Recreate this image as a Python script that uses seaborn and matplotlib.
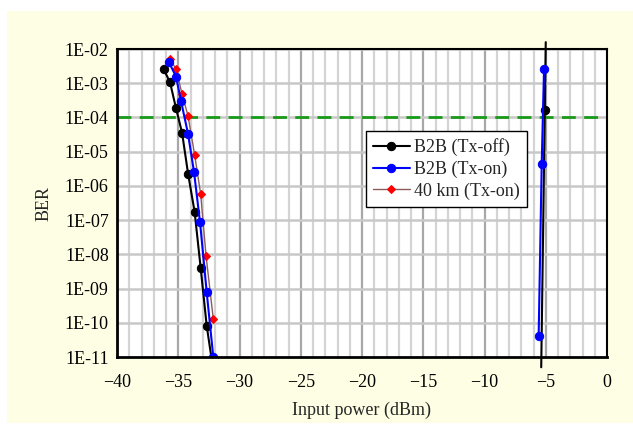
import numpy as np
import pandas as pd
import matplotlib
matplotlib.use("Agg")
import matplotlib.pyplot as plt
import seaborn as sns
from matplotlib.ticker import MultipleLocator, FuncFormatter, LogLocator, NullFormatter
from matplotlib.patches import Rectangle

# ---- data ----
tx_off_power = [-36.2, -35.67, -35.18, -34.69, -34.2, -33.66, -33.17, -32.68]
tx_off_ber = [2.6e-3, 1.06e-3, 1.84e-4, 3.6e-5, 2.3e-6, 1.7e-7, 4.0e-9, 8.3e-11]
tx_off_tail_power = [-32.68, -32.3]
tx_off_tail_ber = [8.3e-11, 1.0e-11]
tx_off_right_power = [-5.06]
tx_off_right_ber = [1.6e-4]
tx_off_right_line_power = [-5.0, -5.37]
tx_off_right_line_ber = [10 ** -1.8, 10 ** -11.3]

tx_on_power = [-35.76, -35.18, -34.78, -34.2, -33.71, -33.22, -32.68, -32.14]
tx_on_ber = [4.1e-3, 1.55e-3, 3.1e-4, 3.3e-5, 2.5e-6, 8.6e-8, 8.0e-10, 1.0e-11]
tx_on_right_power = [-5.14, -5.33, -5.58]
tx_on_right_ber = [2.6e-3, 4.4e-6, 4.0e-11]

km40_power = [-35.67, -35.18, -34.69, -34.2, -33.66, -33.17, -32.73, -32.14]
km40_ber = [5.0e-3, 2.6e-3, 4.8e-4, 1.1e-4, 8.0e-6, 5.8e-7, 9.0e-9, 1.3e-10]

fec_limit = 1e-4
labels = ["B2B (Tx-off)", "B2B (Tx-on)", "40 km (Tx-on)"]

# ---- style ----
sns.set_style("white")
plt.rcParams["font.family"] = ["Liberation Serif", "DejaVu Serif"]
plt.rcParams["axes.unicode_minus"] = True
FS = 13
plt.rcParams["font.size"] = FS

fig = plt.figure(figsize=(6.33, 4.24), dpi=100)
fig.patch.set_facecolor("white")
bg = Rectangle((7 / 633, 1 / 424), 1 - 7 / 633, 412 / 424,
               transform=fig.transFigure, facecolor="#FEFEE4",
               edgecolor="none", zorder=-10)
fig.add_artist(bg)
ax = fig.add_axes([117 / 633, (424 - 357) / 424, 490 / 633, 308 / 424])
ax.set_zorder(2)
ax.set_facecolor("white")

black = "#000000"
blue = "#0000FF"
brown = "#8A5C5C"
red = "#FF0000"

# grid
ax.set_xlim(-40, 0)
ax.set_yscale("log")
ax.set_ylim(1e-11, 1e-2)
for xv in range(-39, 0):
    ax.axvline(xv, color="#A8A8A8" if xv % 5 == 0 else "#D4D4D4", lw=1.6, zorder=0.5)
for e in range(-10, -1):
    ax.axhline(10.0 ** e, color="#C8C8C8", lw=1.8, zorder=0.5)

ax.axhline(fec_limit, color="#1A9A1A", lw=2, dashes=(5, 3), zorder=1)

# series
sns.lineplot(x=tx_off_power, y=tx_off_ber, ax=ax, color=black, lw=1.5, marker="o",
             markersize=6, markeredgecolor=black, markerfacecolor=black,
             sort=False, label=labels[0], zorder=3)
sns.lineplot(x=tx_off_tail_power, y=tx_off_tail_ber, ax=ax, color=black, lw=1.5,
             sort=False, zorder=3)
ax.plot(tx_off_right_line_power, tx_off_right_line_ber, color=black, lw=1.5,
        clip_on=False, zorder=3)
sns.lineplot(x=tx_off_right_power, y=tx_off_right_ber, ax=ax, color=black, lw=0,
             marker="o", markersize=6, markeredgecolor=black, sort=False, zorder=3.5)

sns.lineplot(x=tx_on_power, y=tx_on_ber, ax=ax, color=blue, lw=1.5, marker="o",
             markersize=6, markeredgecolor=blue, markerfacecolor=blue,
             sort=False, label=labels[1], zorder=4)
sns.lineplot(x=tx_on_right_power, y=tx_on_right_ber, ax=ax, color=blue, lw=1.5,
             marker="o", markersize=6, markeredgecolor=blue, markerfacecolor=blue,
             sort=False, zorder=4)

sns.lineplot(x=km40_power, y=km40_ber, ax=ax, color=brown, lw=1.0, marker="D",
             markersize=4.5, markeredgecolor=red, markerfacecolor=red,
             sort=False, label=labels[2], zorder=3.8)

# axes styling
for side in ["top", "right"]:
    ax.spines[side].set_linewidth(1.5)
for side in ["left", "bottom"]:
    ax.spines[side].set_linewidth(2.0)
for s in ax.spines.values():
    s.set_color("black")
    s.set_zorder(5)

ax.xaxis.set_major_locator(MultipleLocator(5))
ax.xaxis.set_minor_locator(MultipleLocator(1))
ax.yaxis.set_major_locator(LogLocator(base=10, numticks=20))
ax.yaxis.set_minor_locator(LogLocator(base=10, subs=np.arange(2, 10), numticks=20))
ax.yaxis.set_minor_formatter(NullFormatter())
ax.yaxis.set_major_formatter(FuncFormatter(lambda v, p: "1E-%02d" % round(-np.log10(v))))

ax.tick_params(axis="both", which="major", direction="out", length=5, width=1.5,
               labelsize=FS, colors="black")
ax.tick_params(axis="x", which="major", pad=7)
ax.tick_params(axis="y", which="major", pad=1)
ax.tick_params(axis="both", which="minor", direction="in", length=5, width=1.2, colors="black")
ax.tick_params(axis="y", which="minor", length=4)

ax.set_xlabel("Input power (dBm)", fontsize=FS, labelpad=8)
ax.set_ylabel("BER", fontsize=FS, labelpad=9)

leg = ax.legend(loc="upper left", bbox_to_anchor=(0.5076, 0.734), borderaxespad=0,
                frameon=True, fancybox=False, edgecolor="black", framealpha=1,
                fontsize=FS, handlelength=2.05, handletextpad=0.25, labelspacing=0.25,
                borderpad=0.4)
leg.get_frame().set_linewidth(1.0)
leg.set_zorder(6)

fig.savefig("out.png", dpi=100, facecolor=fig.get_facecolor())
